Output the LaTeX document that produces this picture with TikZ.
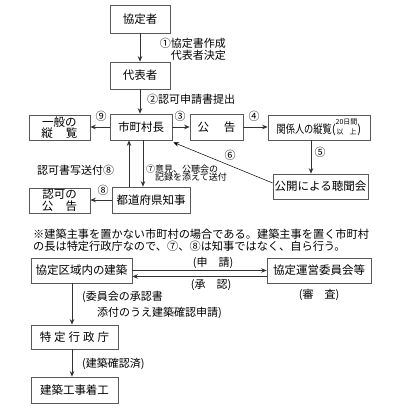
\documentclass[tikz,border=0pt]{standalone}
\usepackage{fontspec}
\usepackage{graphicx}
\setmainfont{Noto Sans CJK JP}
\usetikzlibrary{arrows.meta}
\tikzset{
  box/.style={draw=black!65, line width=0.7pt, inner sep=0pt, align=center, font=\fontsize{11.5}{12}\selectfont},
  arr/.style={-{Stealth[length=5.5pt,width=4.5pt]}, draw=black!80, line width=0.7pt},
  lbl/.style={inner sep=0pt, align=left, font=\fontsize{11}{12}\selectfont},
  sml/.style={inner sep=0pt, align=left, font=\fontsize{9}{8.5}\selectfont},
}
\begin{document}
\begin{tikzpicture}[x=1pt,y=-1pt]
\useasboundingbox[fill=white] (0,0) rectangle (400,410);
% boxes
\node[box, minimum width=60pt, minimum height=28pt] (kyoteisha) at (140,19) {協定者};
\node[box, minimum width=60pt, minimum height=27pt] (daihyo) at (140,75.5) {代表者};
\node[box, minimum width=62pt, minimum height=26pt] (shicho) at (141,127) {市町村長};
\node[box, minimum width=61pt, minimum height=25pt, font=\fontsize{11.5}{11.5}\selectfont] (ippan) at (59.5,127.5) {一般の\\縦\hspace{13pt}覧};
\node[box, minimum width=53pt, minimum height=26pt] (kokoku) at (216.5,127) {公\hspace{15pt}告};
\node[box, minimum width=102pt, minimum height=25pt] (kankei) at (319,127.5) {\scalebox{0.8}[1]{関係人の縦覧}(\raisebox{-1pt}{\fontsize{7}{6.5}\selectfont\shortstack{20日間\\以\hspace{6pt}上}})};
\node[box, minimum width=95pt, minimum height=25pt] (chomon) at (320.5,186.5) {公開による聴聞会};
\node[box, minimum width=78pt, minimum height=26pt] (chiji) at (151,200) {都道府県知事};
\node[box, minimum width=61pt, minimum height=25pt, font=\fontsize{11.5}{11.5}\selectfont] (ninka) at (59.5,200.5) {認可の\\公\hspace{12.5pt}告};
\node[box, minimum width=101pt, minimum height=25pt] (kyotei) at (81.5,270.5) {協定区域内の建築};
\node[box, minimum width=104pt, minimum height=25pt] (unei) at (319,270.5) {協定運営委員会等};
\node[box, minimum width=87pt, minimum height=24pt] (tokutei) at (74.5,337) {特\hspace{3pt}定\hspace{3pt}行\hspace{3pt}政\hspace{3pt}庁};
\node[box, minimum width=87pt, minimum height=26pt] (chakko) at (74.5,390) {建築工事着工};
% arrows
\draw[arr] (kyoteisha.south) -- (daihyo.north);
\draw[arr] (daihyo.south) -- (daihyo.south |- shicho.north);
\draw[arr] (shicho.west) -- (shicho.west -| ippan.east);
\draw[arr] (shicho.east) -- (shicho.east -| kokoku.west);
\draw[arr] (kokoku.east) -- (kokoku.east -| kankei.west);
\draw[arr] ([xshift=-8pt]kankei.south) -- ([xshift=-8pt]kankei.south |- chomon.north);
\draw[arr, draw=black, line width=0.5pt] ([yshift=3.5pt]chomon.west) -- ([xshift=1pt,yshift=-2pt]shicho.south east);
\draw[arr] ([xshift=-22pt]chiji.north) -- ([xshift=-22pt]chiji.north |- shicho.south);
\draw[arr] ([xshift=-8pt]chiji.north |- shicho.south) -- ([xshift=-8pt]chiji.north);
\draw[arr] (chiji.west) -- (chiji.west -| ninka.east);
\draw[arr] (kyotei.east) -- (kyotei.east -| unei.west);
\draw[arr] ([yshift=-6pt]unei.west) -- ([yshift=-6pt]unei.west -| kyotei.east);
\draw[arr] ([xshift=-9.5pt]kyotei.south) -- ([xshift=-9.5pt]kyotei.south |- tokutei.north);
\draw[arr] ([xshift=-2.5pt]tokutei.south) -- ([xshift=-2.5pt]tokutei.south |- chakko.north);
% labels
\node[lbl, align=right, anchor=east] (l1) at (226,49) {①協定書作成\\代表者決定};
\node[lbl, anchor=west] (l2) at (147,99.5) {②認可申請書提出};
\node[lbl, anchor=center] (n9) at (101,116) {⑨};
\node[lbl, anchor=center] (n3) at (180,116) {③};
\node[lbl, anchor=center] (n4) at (254,116) {④};
\node[lbl, anchor=center] (n5) at (320,152) {⑤};
\node[lbl, anchor=center] (n6) at (230,155) {⑥};
\node[lbl, anchor=center] (n8) at (103,190) {⑧};
\node[lbl, anchor=west] (l8) at (37,170) {認可書写送付⑧};
\node[sml, anchor=west] (l7a) at (146,169) {⑦意見、公聴会の};
\node[sml, anchor=west] (l7b) at (155,177.5) {記録を添えて送付};
\node[lbl, anchor=north west, font=\fontsize{11.2}{12}\selectfont] (note) at (33,229) {※建築主事を置かない市町村の場合である。建築主事を置く市町村\\の長は特定行政庁なので、⑦、⑧は知事ではなく、自ら行う。};
\node[lbl, anchor=center] (shinsei) at (213,263) {(申\hspace{11pt}請)};
\node[lbl, anchor=center] (shonin) at (211,285) {(承\hspace{11pt}認)};
\node[lbl, anchor=center] (shinsa) at (319,295) {(審\hspace{11pt}査)};
\node[lbl, anchor=west] (l10a) at (82,297) {(委員会の承認書};
\node[lbl, anchor=west] (l10b) at (97,313) {添付のうえ建築確認申請)};
\node[lbl, anchor=west] (l11) at (82,364) {(建築確認済)};
\end{tikzpicture}
\end{document}
